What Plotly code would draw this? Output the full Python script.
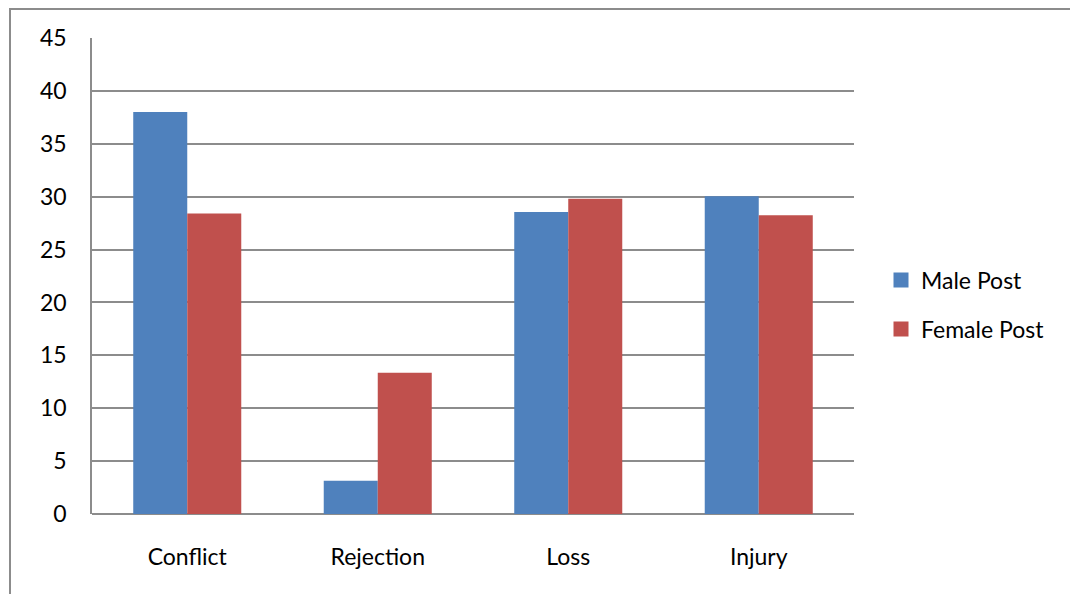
import plotly.graph_objects as go

categories = ["Conflict", "Rejection", "Loss", "Injury"]
male_post = [38.0, 3.15, 28.55, 30.05]
female_post = [28.4, 13.35, 29.8, 28.25]
y_ticks = [0, 5, 10, 15, 20, 25, 30, 35, 40, 45]

FONT = "Lato, 'Open Sans', sans-serif"
BLUE = "#4F81BD"
RED = "#C0504D"

fig = go.Figure()
fig.add_trace(go.Bar(name="Male Post", x=categories, y=male_post,
                     marker=dict(color=BLUE, line=dict(width=0)),
                     showlegend=False))
fig.add_trace(go.Bar(name="Female Post", x=categories, y=female_post,
                     marker=dict(color=RED, line=dict(width=0)),
                     showlegend=False))
# legend entries with larger square symbols
fig.add_trace(go.Scatter(name="Male Post", x=[None], y=[None], mode="markers",
                         marker=dict(symbol="square", size=15, color=BLUE),
                         legendgroup="m"))
fig.add_trace(go.Scatter(name="Female Post", x=[None], y=[None], mode="markers",
                         marker=dict(symbol="square", size=15, color=RED),
                         legendgroup="f"))

fig.update_layout(
    width=1070, height=594,
    margin=dict(l=92, r=216, t=38, b=80, autoexpand=False),
    paper_bgcolor="white", plot_bgcolor="white",
    barmode="group", bargap=0.433, bargroupgap=0,
    font=dict(family=FONT, size=23, color="#000000"),
    legend=dict(x=(881 - 92) / 762, y=0.44, xanchor="left", yanchor="middle",
                font=dict(family=FONT, size=23),
                traceorder="grouped", tracegroupgap=16,
                itemwidth=30, bgcolor="rgba(0,0,0,0)"),
    xaxis=dict(showgrid=False, showline=False, ticks="",
               tickfont=dict(family=FONT, size=23),
               ticklabelstandoff=27),
    yaxis=dict(range=[0, 45], tickvals=y_ticks, showgrid=True,
               gridcolor="#8c8c8c", gridwidth=1.5,
               showline=True, linecolor="#8c8c8c", linewidth=1.5,
               zeroline=True, zerolinecolor="#8c8c8c", zerolinewidth=1.5,
               ticks="", ticklen=0, tickfont=dict(family=FONT, size=23),
               ticklabelstandoff=19),
    shapes=[dict(type="rect", xref="paper", yref="paper",
                 x0=(10 - 92) / 762, x1=1.5, y0=-0.5, y1=(514 - 9) / 476,
                 line=dict(color="#8c8c8c", width=2), layer="below")],
)

fig.write_html("out.html", config={"displayModeBar": False},
               post_script="document.body.style.margin='0px';")
